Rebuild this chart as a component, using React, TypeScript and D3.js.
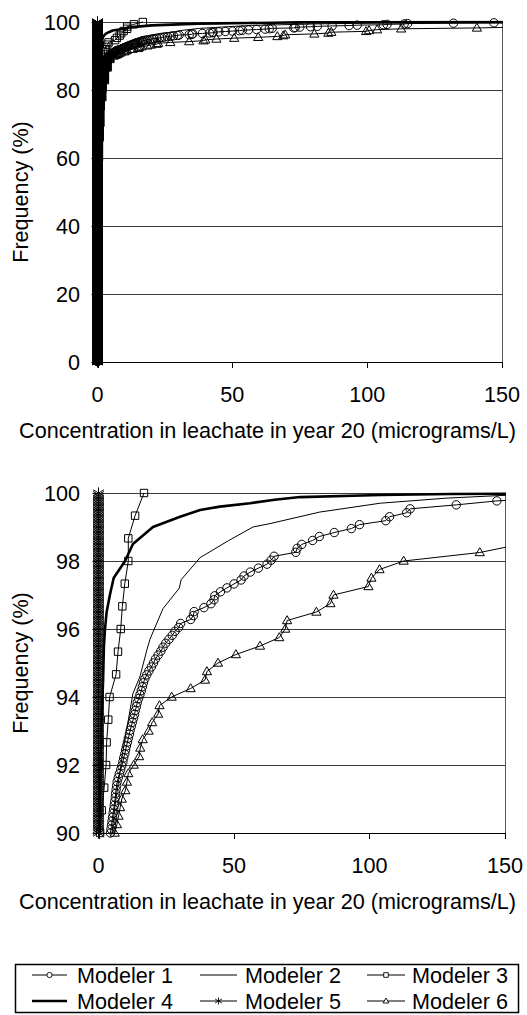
import React from "react";
import * as d3 from "d3";

// ---------- texts & ticks ----------
const xTicks = [0, 50, 100, 150];
const topYTicks = [0, 20, 40, 60, 80, 100];
const bottomYTicks = [90, 92, 94, 96, 98, 100];
const xTitle = "Concentration in leachate in year 20 (micrograms/L)";
const yTitle = "Frequency (%)";
const modelerNames = ["Modeler 1", "Modeler 2", "Modeler 3", "Modeler 4", "Modeler 5", "Modeler 6"];

// ---------- data ----------
// Marker series are empirical CDFs: sorted realizations, given as
// [concentration, count] runs for the bulk near zero + the individual upper tail.
const modeler1Runs: [number, number][] = [[0, 430], [0.2, 130], [0.5, 80], [1.0, 45], [1.6, 30], [2.3, 25], [3.0, 18], [3.6, 10], [4.1, 5]];
const modeler1Tail = [
  4.4, 4.6, 4.8, 5.0, 5.2, 5.4, 5.6, 5.8, 6.0, 6.2, 6.3, 6.5, 6.7, 6.9, 7.3, 7.7, 8.2, 8.6, 9.0, 9.3,
  9.7, 10.0, 10.3, 10.7, 11.0, 11.4, 11.7, 12.1, 12.5, 12.9, 13.3, 13.6, 14.0, 14.3, 14.8, 15.3, 15.8, 16.2, 16.6, 17.1,
  17.8, 18.6, 19.5, 20.3, 21.0, 22.0, 23.0, 23.8, 24.8, 26.0, 27.2, 28.2, 29.6, 30.3, 34, 35, 35.3, 38.9, 41.5, 42.6,
  42.9, 45, 47.4, 50, 52.6, 53.7, 56, 59, 62.2, 63.7, 64.8, 72.8, 73.3, 75, 79, 81.5, 87, 93.3, 96.3, 106,
  107.4, 113.7, 115, 132, 147, 175, 260,
];
const modeler3Runs: [number, number][] = [[0, 134]];
const modeler3Tail = [0.6, 1.2, 2.1, 2.8, 3.0, 3.6, 4.1, 6.5, 7.2, 8.2, 8.8, 9.7, 11.0, 11.0, 13.5, 16.8];
const modeler5Runs: [number, number][] = [[0, 2000]];
const modeler5Tail: number[] = [];
const modeler6Runs: [number, number][] = [[0, 240], [0.3, 40], [0.8, 30], [1.5, 20], [2.5, 15], [3.5, 10], [4.5, 4]];
const modeler6Tail = [
  6.0, 6.8, 7.4, 8.0, 8.6, 9.9, 10.5, 11, 13, 15, 15.4, 16.3, 18.5, 19.8, 22, 22.5, 27, 34, 39.3, 40,
  44.1, 50.7, 59.6, 66.7, 68.9, 69.6, 80.4, 85.6, 86.7, 99.6, 100.7, 103.7, 112.6, 140.7, 156, 175, 200, 240, 300, 400, 600,
];
// Line-only series: points
const modeler2Freq = [0, 50, 70, 80, 85, 88, 90, 90.8, 92.4, 94.1, 94.6, 95.4, 95.7, 96.6, 97.2, 97.45, 98.1, 98.6, 99.0, 99.1, 99.44, 99.7, 99.85, 99.94, 100];
const modeler2Conc = [0, 0, 0.3, 1.0, 2.0, 3.2, 5.0, 6.1, 9.0, 12.7, 15.3, 17.9, 19.0, 23.8, 29.8, 30.5, 37.5, 48, 57, 63.3, 81.7, 104, 128.6, 152, 200];
const modeler4Freq = [0, 50, 80, 90, 92, 93.5, 94.5, 95.5, 96, 96.5, 97, 97.5, 98, 98.5, 99, 99.3, 99.5, 99.6, 99.7, 99.8, 99.88, 99.94, 99.97, 100];
const modeler4Conc = [0, 0, 0.1, 0.3, 0.8, 1.2, 1.7, 2.0, 2.4, 3.0, 4.2, 5.6, 9.8, 12.7, 20.1, 30.1, 37.5, 44.8, 55.9, 65, 74.4, 104, 130, 220];

type Pt = { c: number; f: number };
function ecdf(runs: [number, number][], tail: number[]): Pt[] {
  const vals: number[] = [];
  runs.forEach(([c, n]) => { for (let i = 0; i < n; i++) vals.push(c); });
  tail.forEach((v) => vals.push(v));
  const N = vals.length;
  return vals.map((c, i) => ({ c, f: ((i + 1) / N) * 100 }));
}
function pairs(freq: number[], conc: number[]): Pt[] {
  return freq.map((f, i) => ({ c: conc[i], f }));
}

type Marker = "circle" | "square" | "star" | "triangle" | null;
type Series = { name: string; pts: Pt[]; marker: Marker; width: number };

const series: Series[] = [
  { name: modelerNames[0], pts: ecdf(modeler1Runs, modeler1Tail), marker: "circle", width: 1 },
  { name: modelerNames[1], pts: pairs(modeler2Freq, modeler2Conc), marker: null, width: 1 },
  { name: modelerNames[2], pts: ecdf(modeler3Runs, modeler3Tail), marker: "square", width: 1 },
  { name: modelerNames[3], pts: pairs(modeler4Freq, modeler4Conc), marker: null, width: 2.6 },
  { name: modelerNames[4], pts: ecdf(modeler5Runs, modeler5Tail), marker: "star", width: 1 },
  { name: modelerNames[5], pts: ecdf(modeler6Runs, modeler6Tail), marker: "triangle", width: 1 },
];

function markerPath(m: Marker, x: number, y: number, s = 1): string {
  switch (m) {
    case "circle": {
      const r = 4.2 * s;
      return `M${x - r},${y}a${r},${r} 0 1,0 ${2 * r},0a${r},${r} 0 1,0 ${-2 * r},0`;
    }
    case "square": {
      const h = 3.7 * s;
      return `M${x - h},${y - h}h${2 * h}v${2 * h}h${-2 * h}Z`;
    }
    case "triangle": {
      const w = 4.6 * s;
      return `M${x},${y - 4.8 * s}L${x + w},${y + 3.2 * s}L${x - w},${y + 3.2 * s}Z`;
    }
    case "star": {
      const v = 5.6 * s, dx = 5.4 * s, dy = 3.2 * s;
      return `M${x},${y - v}V${y + v}M${x - dx},${y - dy}L${x + dx},${y + dy}M${x - dx},${y + dy}L${x + dx},${y - dy}`;
    }
    default:
      return "";
  }
}

const FONT = "'Liberation Sans', Arial, Helvetica, sans-serif";
const FS = 21.6;

type ChartProps = {
  id: string;
  x0: number; x1: number; yTop: number; yBot: number;
  yDomain: [number, number]; yTicks: number[];
};

function Chart({ id, x0, x1, yTop, yBot, yDomain, yTicks }: ChartProps) {
  const x = d3.scaleLinear().domain([0, 150]).range([x0, x1]);
  const y = d3.scaleLinear().domain(yDomain).range([yBot, yTop]);
  const line = d3.line<Pt>().x((d) => x(d.c)).y((d) => y(d.f));
  const crisp = (v: number) => Math.round(v) + 0.5;
  const inDomain = (p: Pt) => p.c >= 0 && p.c <= 150.5 && p.f >= yDomain[0] - 0.01 && p.f <= yDomain[1] + 0.01;
  return (
    <g>
      <defs>
        <clipPath id={id}>
          <rect x={x0} y={yTop - 1.5} width={x1 - x0 + 1} height={yBot - yTop + 3} />
        </clipPath>
      </defs>
      {/* gridlines */}
      {yTicks.filter((t) => t !== yDomain[0]).map((t) => (
        <line key={t} x1={x0} x2={x1} y1={crisp(y(t))} y2={crisp(y(t))} stroke="#3a3a3a" strokeWidth={1} />
      ))}
      {/* right border */}
      <line x1={crisp(x1)} x2={crisp(x1)} y1={yTop} y2={yBot} stroke="#555" strokeWidth={1} />
      {/* axes */}
      <line x1={x0} x2={x1} y1={crisp(yBot)} y2={crisp(yBot)} stroke="#000" strokeWidth={1.2} />
      <line x1={x0} x2={x0} y1={yTop} y2={yBot} stroke="#000" strokeWidth={1.2} />
      {yTicks.map((t) => (
        <g key={t}>
          <line x1={x0 - 6} x2={x0} y1={crisp(y(t))} y2={crisp(y(t))} stroke="#000" strokeWidth={1} />
          <text x={80} y={y(t) + 7.7} textAnchor="end" fontSize={FS} fontFamily={FONT} fill="#000">{t}</text>
        </g>
      ))}
      {xTicks.map((t) => (
        <g key={t}>
          <line x1={crisp(x(t))} x2={crisp(x(t))} y1={yBot} y2={yBot + 6} stroke="#000" strokeWidth={1} />
          <text x={x(t)} y={yBot + 40} textAnchor="middle" fontSize={FS} fontFamily={FONT} fill="#000">{t}</text>
        </g>
      ))}
      {/* series */}
      {series.map((s) => (
        <g key={s.name}>
          <path d={line(s.pts) || ""} fill="none" stroke="#000" strokeWidth={s.width} clipPath={`url(#${id})`} strokeLinejoin="round" />
          {s.marker && (
            <path
              d={s.pts.filter(inDomain).map((p) => markerPath(s.marker, x(p.c), y(p.f))).join("")}
              fill="none" stroke="#000" strokeWidth={1}
            />
          )}
        </g>
      ))}
      <text x={267.5} y={yBot + 75.5} textAnchor="middle" fontSize={FS} fontFamily={FONT} fill="#000">{xTitle}</text>
      <text transform={`translate(28,${(yTop + yBot) / 2}) rotate(-90)`} textAnchor="middle" fontSize={FS} fontFamily={FONT} fill="#000">{yTitle}</text>
    </g>
  );
}

function Legend() {
  const cols = [
    { lx0: 32, lx1: 67, tx: 77 },
    { lx0: 200, lx1: 237, tx: 245 },
    { lx0: 367, lx1: 405, tx: 412 },
  ];
  const rows = [975, 1001];
  return (
    <g>
      <rect x={15.5} y={964.5} width={503} height={48} fill="#fff" stroke="#000" strokeWidth={1.5} />
      {series.map((s, i) => {
        const c = cols[i % 3];
        const ry = rows[Math.floor(i / 3)];
        const mx = (c.lx0 + c.lx1) / 2;
        return (
          <g key={s.name}>
            <line x1={c.lx0} x2={c.lx1} y1={ry} y2={ry} stroke="#000" strokeWidth={s.width} />
            {s.marker && <path d={markerPath(s.marker, mx, ry, 0.62)} fill="#fff" stroke="#000" strokeWidth={0.9} />}
            <text x={c.tx} y={ry + 7.7} fontSize={FS} fontFamily={FONT} fill="#000">{s.name}</text>
          </g>
        );
      })}
    </g>
  );
}

export default function App() {
  return (
    <svg width={527} height={1015} style={{ position: "absolute", left: 0, top: 0, display: "block", background: "#fff" }}>
      <rect x={0} y={0} width={527} height={1015} fill="#fff" />
      <Chart id="clipTop" x0={97.5} x1={502} yTop={22} yBot={362} yDomain={[0, 100]} yTicks={topYTicks} />
      <Chart id="clipBot" x0={98.5} x1={505} yTop={493} yBot={833} yDomain={[90, 100]} yTicks={bottomYTicks} />
      <Legend />
    </svg>
  );
}
